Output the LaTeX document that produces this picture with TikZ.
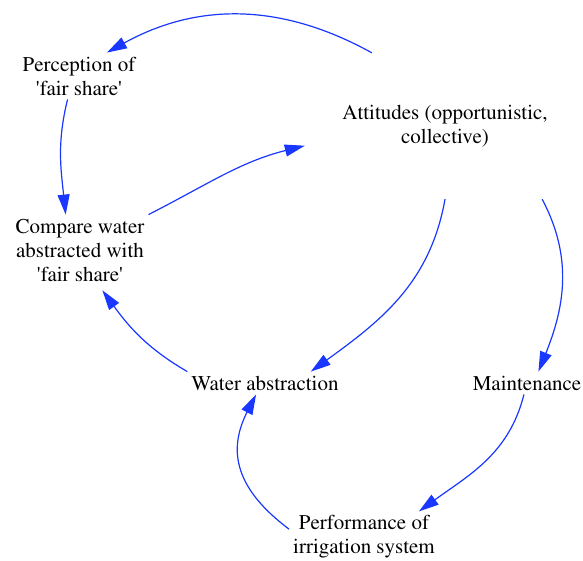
\documentclass[tikz,border=0pt]{standalone}
\usepackage[T1]{fontenc}
\usepackage{mathptmx}
\usetikzlibrary{arrows.meta}
\definecolor{linkblue}{RGB}{25,55,255}
\begin{document}
\begin{tikzpicture} [x=1pt, y=1pt,
    every node/.style={align=center, inner sep=4pt, font=\fontsize{21}{24}\selectfont},
    link/.style={linkblue, line width=1.2pt, -{Triangle[length=20pt, width=12pt]}}]
    \useasboundingbox (0,0) rectangle (583,560);
    \node (perc) at (79, 484) {Perception of\\\textquotesingle fair share\textquotesingle};
    \node[minimum width=280pt, minimum height=146pt] (att) at (445, 434) {Attitudes (opportunistic,\\collective)};
    \node (comp) at (80, 310) {Compare water\\abstracted with\\\textquotesingle fair share\textquotesingle};
    \node (wabs) at (265, 177) {Water abstraction};
    \node (maint) at (527, 177) {Maintenance};
    \node (perf) at (364, 23) {Performance of\\irrigation system};
    \draw[link] (att.135) to[out=151, in=29] (perc.40);
    \draw[link] (perc.244) to[out=256, in=96] (comp.112);
    \draw[link] (comp.north east) to[out=27, in=194] (att.188);
    \draw[link, shorten >=6pt] (wabs.north west) to[out=150, in=306] (comp.298);
    \draw[link] (att.south) to[out=260, in=36] (wabs.14);
    \draw[link] (att.323) to[out=298, in=68] (maint.45);
    \draw[link] (maint.255) to[out=256, in=36] (perf.25);
    \draw[link] (perf.174) to[out=143, in=243, looseness=1.2] (wabs.232);
  \end{tikzpicture}
\end{document}
